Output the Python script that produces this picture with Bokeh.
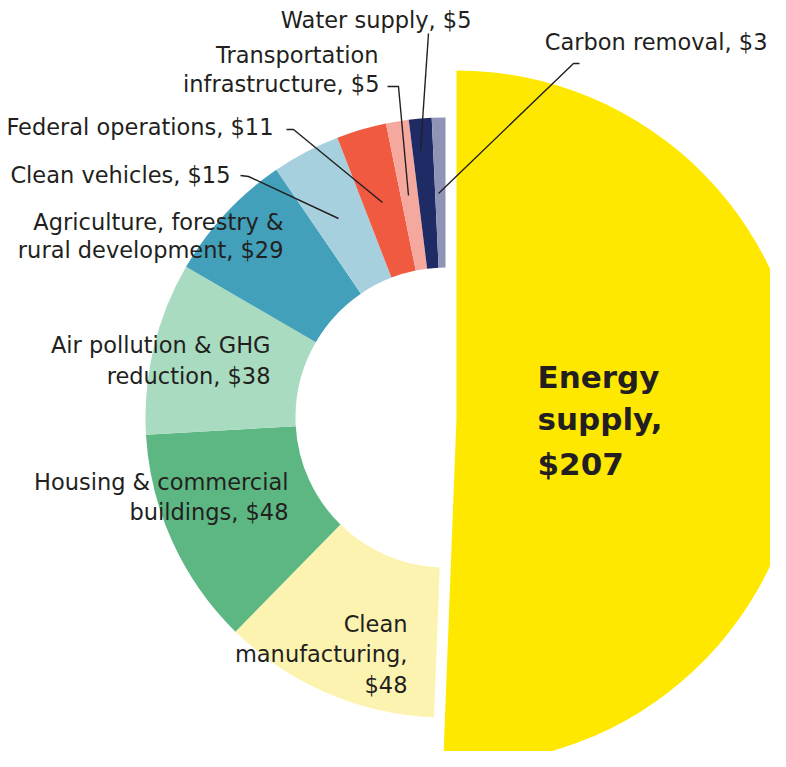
from bokeh.plotting import figure
from bokeh.models import Range1d, ColumnDataSource
from bokeh.embed import file_html
from bokeh.resources import INLINE
from bokeh.core.properties import value
import numpy as np

# ---------------- data ----------------
categories = [
    "Energy supply",
    "Clean manufacturing",
    "Housing & commercial buildings",
    "Air pollution & GHG reduction",
    "Agriculture, forestry & rural development",
    "Clean vehicles",
    "Federal operations",
    "Transportation infrastructure",
    "Water supply",
    "Carbon removal",
]
values = [207, 48, 48, 38, 29, 15, 11, 5, 5, 3]
colors = [
    "#FFE800", "#FDF3B1", "#5CB783", "#A9DBC0", "#42A0BB",
    "#A6D0DD", "#EF5A41", "#F5A89E", "#1F2B65", "#8F94B6",
]

# ---------------- layout ----------------
W, H = 786, 767
FW, FH = 770, 751
def Y(py):
    return H - py

CX, CY = 445, 417          # donut centre (reference pixels)
R_IN, R_OUT = 150, 300
EX_CX = 456                # exploded energy wedge centre x
R_EN = 347

total = float(sum(values))
cum = np.concatenate([[0.0], np.cumsum(values)]) / total
# clockwise from the top, expressed as anticlockwise start/end
start_deg = 90 - 360 * cum[1:]
end_deg = 90 - 360 * cum[:-1]

p = figure(width=FW, height=FH,
           x_range=Range1d(0, FW), y_range=Range1d(H - FH, H),
           x_axis_location=None, y_axis_location=None,
           output_backend="svg", toolbar_location=None, min_border=0)
p.grid.visible = False
p.outline_line_color = None
p.background_fill_color = "white"
p.border_fill_color = "white"

# energy supply: full wedge, exploded to the right
p.wedge(x=[EX_CX], y=[Y(CY)], radius=R_EN,
        start_angle=[np.radians(start_deg[0])], end_angle=[np.radians(end_deg[0])],
        fill_color=colors[0], line_color=None)

# other segments: donut
src = ColumnDataSource(dict(
    x=[CX] * (len(values) - 1),
    y=[Y(CY)] * (len(values) - 1),
    start=list(np.radians(start_deg[1:])),
    end=list(np.radians(end_deg[1:])),
    color=colors[1:],
))
p.annular_wedge(x="x", y="y", inner_radius=R_IN, outer_radius=R_OUT,
                start_angle="start", end_angle="end",
                fill_color="color", line_color=None, source=src)

# ---------------- labels ----------------
v = dict(zip(categories, values))
TXT = "#231f20"
LAB_DY = -9     # baseline correction for the renderer
right_labels = [
    ("Water supply, $%d" % v["Water supply"], 471, 28),
    ("Transportation", 378, 63),
    ("infrastructure, $%d" % v["Transportation infrastructure"], 379, 92),
    ("Carbon removal, $%d" % v["Carbon removal"], 767, 50),
    ("Federal operations, $%d" % v["Federal operations"], 273, 135),
    ("Clean vehicles, $%d" % v["Clean vehicles"], 230, 183),
    ("Agriculture, forestry &", 283, 230),
    ("rural development, $%d" % v["Agriculture, forestry & rural development"], 283, 258),
    ("Air pollution & GHG", 270, 353),
    ("reduction, $%d" % v["Air pollution & GHG reduction"], 270, 384),
    ("Housing & commercial", 288, 490),
    ("buildings, $%d" % v["Housing & commercial buildings"], 288, 520),
    ("Clean", 407, 632),
    ("manufacturing,", 407, 662),
    ("$%d" % v["Clean manufacturing"], 407, 693),
]
p.text(x=[l[1] for l in right_labels], y=[Y(l[2] + LAB_DY) for l in right_labels],
       text=[l[0] for l in right_labels],
       text_align="right", text_baseline="alphabetic",
       text_font=value("DejaVu Sans"), text_font_size="22.5px", text_color=TXT)

EN_DY = -12
energy_lines = [("Energy", 388), ("supply,", 430), ("$%d" % v["Energy supply"], 475)]
p.text(x=[537] * 3, y=[Y(b + EN_DY) for _, b in energy_lines], text=[t for t, _ in energy_lines],
       text_align="left", text_baseline="alphabetic",
       text_font=value("DejaVu Sans"), text_font_style="bold",
       text_font_size="31px", text_color=TXT)

# ---------------- leader lines ----------------
leaders = [
    [(428, 33), (420, 150)],                      # water supply
    [(387, 86), (398, 86), (408, 195)],           # transportation
    [(579, 63), (573, 63), (438, 193)],           # carbon removal
    [(286, 129), (293, 129), (382, 202)],         # federal operations
    [(240, 175), (248, 176), (338, 218)],         # clean vehicles
]
p.multi_line(xs=[[pt[0] for pt in l] for l in leaders],
             ys=[[Y(pt[1]) for pt in l] for l in leaders],
             line_color=TXT, line_width=1.4)

open("out.html", "w").write(file_html(p, INLINE))
